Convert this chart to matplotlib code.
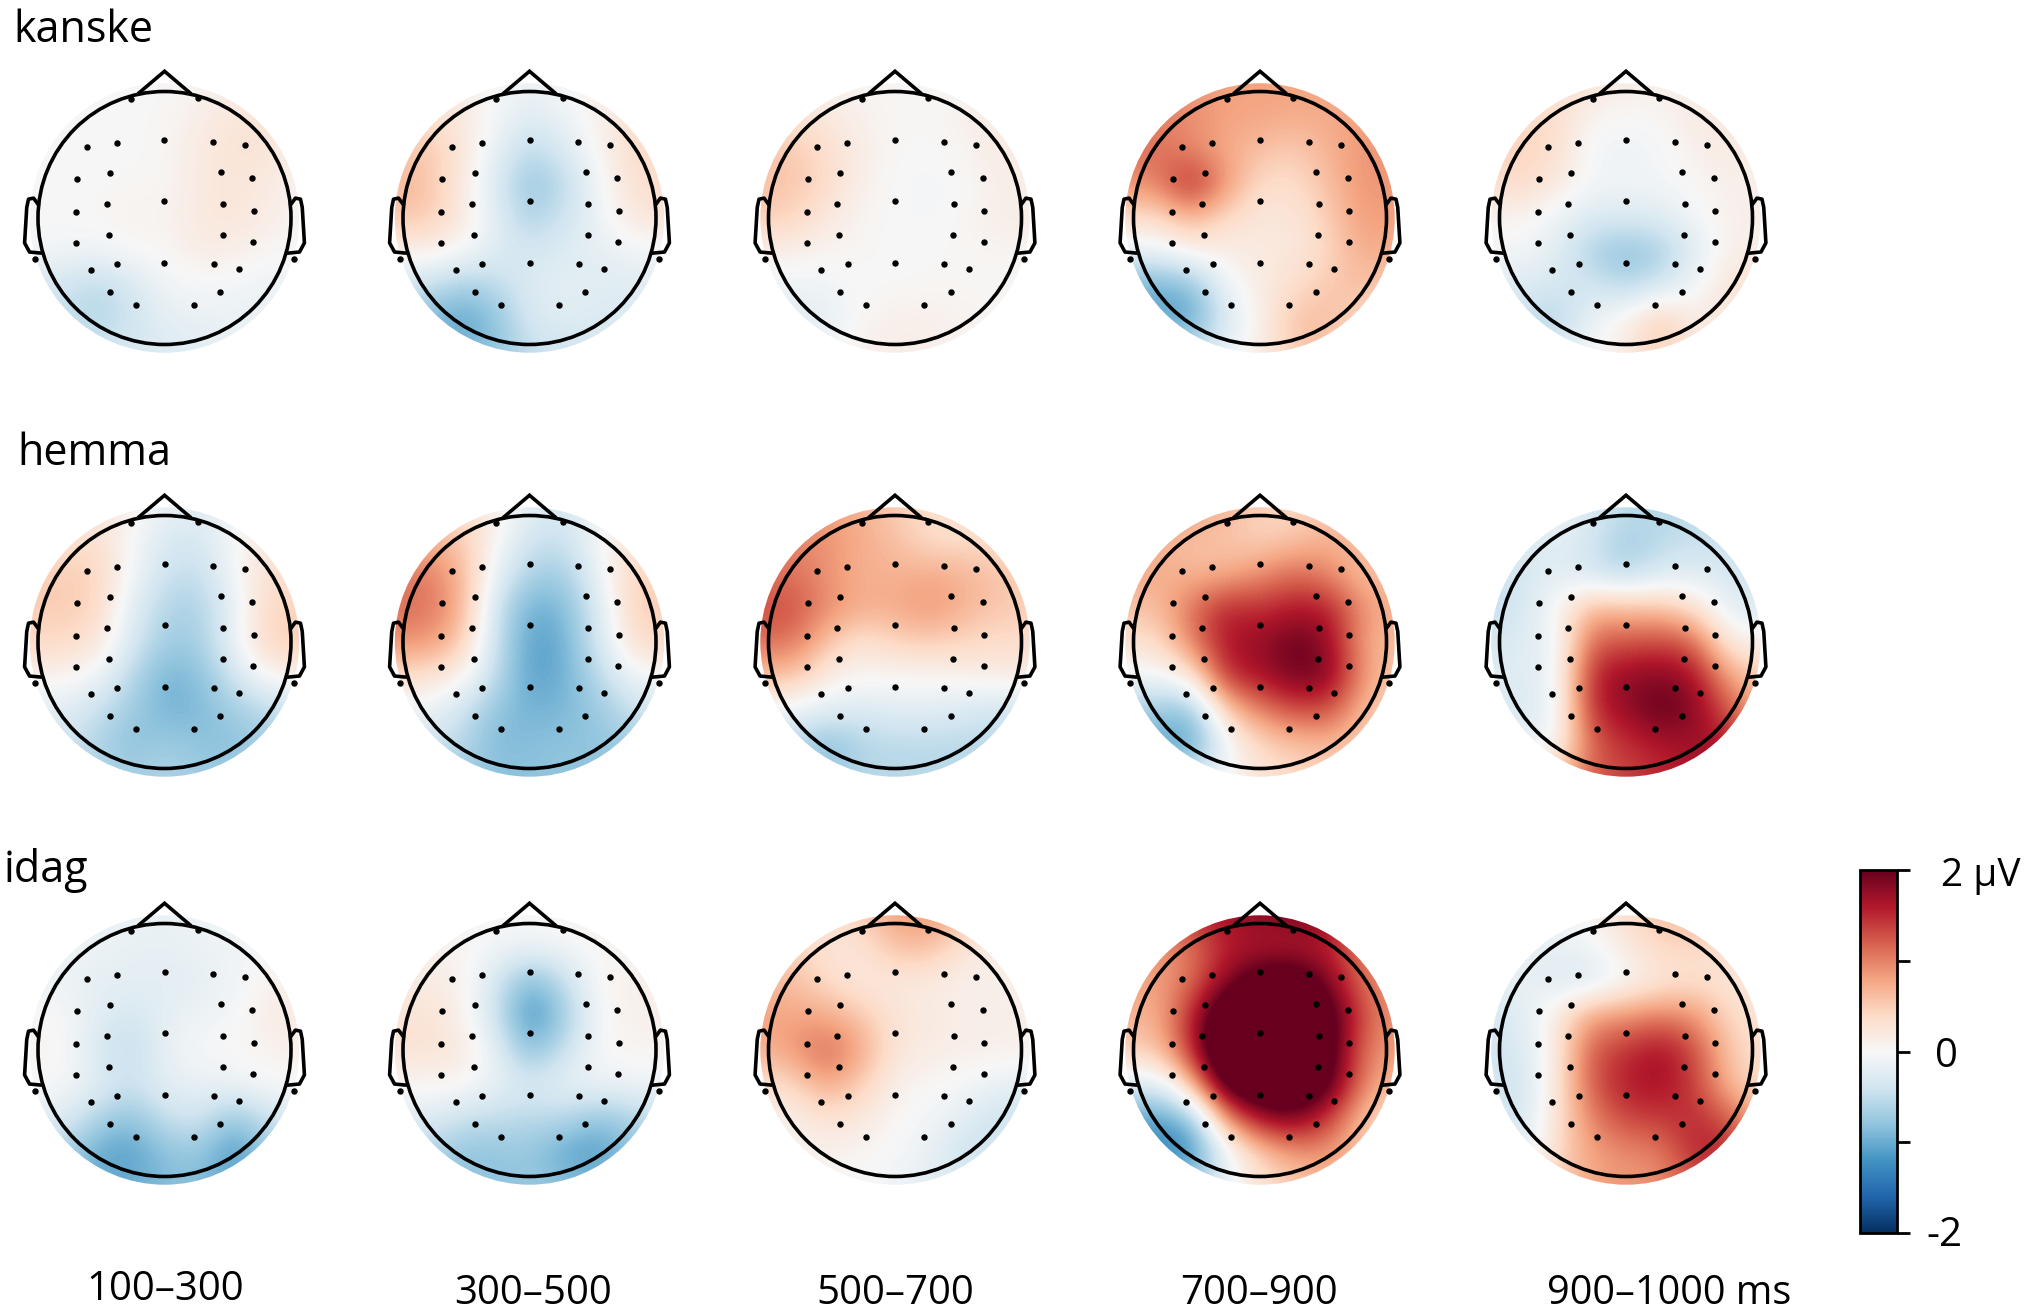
import numpy as np
import matplotlib
matplotlib.use("Agg")
import matplotlib.pyplot as plt
from matplotlib.patches import Circle
from matplotlib.cm import ScalarMappable
from matplotlib.colors import Normalize

plt.rcParams['font.family'] = ['Open Sans', 'DejaVu Sans']

conditions = ['kanske', 'hemma', 'idag']
windows = ['100–300', '300–500', '500–700', '700–900', '900–1000 ms']
cbar_ticks = [-2, -1, 0, 1, 2]

# electrode locations on the unit head
elec_x = [-.262, .262, -.613, -.376, 0, .387, .638, -.688, -.433, .443, .695, -.699, -.457, 0, .465, .706,
          -.699, -.44, .461, .702, -.582, -.372, 0, .39, .585, -.433, .44, -.227, .23, -1.025, 1.021]
elec_y = [.943, .945, .562, .589, .615, .597, .581, .309, .354, .36, .317, .051, .109, .136, .112, .056,
          -.197, -.136, -.133, -.192, -.41, -.364, -.354, -.364, -.404, -.588, -.588, -.689, -.689, -.322, -.322]

kanske_100 = [[0,0,0,0,0,.05,.1,.1,.1],[0,0,0,0,.03,.12,.25,.25,.1],[0,0,0,0,.03,.18,.27,.27,.1],
 [0,0,0,.03,.03,.18,.25,.18,.05],[0,0,.03,.08,.06,.2,.25,.14,.03],[-.05,-.05,-.1,0,.03,.15,.12,.03,0],
 [-.35,-.4,-.55,-.35,-.08,-.03,-.05,-.12,-.1],[-.45,-.45,-.6,-.42,-.2,-.15,-.14,-.14,-.12],[-.35,-.35,-.35,-.3,-.28,-.25,-.12,-.1,-.1]]
kanske_300 = [[.2,.2,.1,0,-.1,-.02,.1,.2,.3],[.3,.35,.2,-.03,-.25,-.1,.1,.3,.4],[.55,.55,.25,-.15,-.55,-.3,.05,.35,.45],
 [.65,.6,.2,-.3,-.8,-.55,-.05,.3,.35],[.55,.55,.2,-.2,-.65,-.4,-.1,.2,.3],[.1,.1,0,-.25,-.35,-.25,-.18,-.1,-.05],
 [-.35,-.45,-.7,-.55,-.25,-.2,-.25,-.25,-.2],[-.8,-.9,-1.1,-.85,-.3,-.25,-.25,-.3,-.3],[-.85,-.85,-.85,-.8,-.5,-.4,-.4,-.3,-.3]]
kanske_500 = [[.1,.1,.1,.05,.03,0,.05,.1,.1],[.3,.3,.2,.08,.03,.02,.1,.15,.15],[.55,.55,.33,.15,.02,0,.05,.17,.15],
 [.6,.55,.4,.1,0,-.05,0,.12,.12],[.5,.45,.2,.05,0,-.03,.03,.14,.12],[.1,.1,.05,.03,0,0,.03,.05,.05],
 [-.08,-.1,-.08,0,0,.03,.03,0,0],[-.25,-.25,-.2,.05,.12,.12,.07,.05,.05],[-.1,-.1,-.05,.1,.12,.1,.08,.06,.05]]
kanske_700 = [[.9,.9,.85,.8,.8,.8,.8,.8,.8],[1,1,.95,.8,.8,.75,.75,.8,.85],[1.1,1.1,.95,.75,.6,.5,.7,.9,.85],
 [.9,1,1.6,.9,.35,.35,.6,.9,.85],[.35,.35,.7,.35,.22,.22,.5,.85,.8],[-.15,-.15,.1,.12,.2,.2,.4,.75,.7],
 [-1,-1,-.9,-.1,.15,.35,.55,.6,.5],[-1,-1,-1.1,-.3,.08,.6,.6,.4,.35],[-.5,-.5,-.4,-.1,.15,.5,.6,.4,.3]]
kanske_900 = [[.3,.3,.3,.3,.15,.1,.1,.1,.1],[.4,.4,.35,.05,0,.05,.17,.22,.2],[.45,.45,.33,-.07,-.1,-.05,.1,.17,.15],
 [.38,.38,.2,-.05,-.05,-.05,.03,.1,.1],[.05,.05,-.12,-.3,-.3,-.25,-.05,.1,.1],[-.05,-.05,-.22,-.65,-.85,-.7,-.25,.12,.1],
 [-.2,-.28,-.35,-.35,-.55,-.35,-.05,.25,.35],[-.45,-.45,-.65,-.1,.12,.6,.1,.3,.25],[-.3,-.3,-.2,0,.15,.45,.3,.2,.2]]
hemma_100 = [[.2,.2,.2,.1,-.15,-.2,-.1,.1,.1],[.3,.3,.35,0,-.3,-.35,0,.22,.2],[.5,.5,.45,-.03,-.42,-.5,-.05,.33,.35],
 [.5,.5,.45,-.2,-.6,-.65,-.17,.4,.45],[.4,.4,.28,-.3,-.7,-.7,-.12,.45,.5],[.1,.05,-.05,-.55,-.95,-.85,-.4,.05,.1],
 [-.2,-.2,-.45,-.7,-.95,-.9,-.7,-.55,-.4],[-.4,-.4,-.6,-.85,-.7,-.8,-.85,-.65,-.6],[-.5,-.5,-.55,-.65,-.6,-.7,-.7,-.6,-.6]]
hemma_300 = [[.4,.4,.3,.15,-.2,-.35,-.1,.05,.1],[.7,.7,.55,.05,-.4,-.45,0,.28,.25],[1.05,1.05,.7,-.15,-.65,-.7,-.12,.45,.45],
 [1.1,1.1,.75,-.4,-1,-.9,-.3,.45,.5],[.9,.9,.55,-.45,-1.1,-1,-.35,.35,.4],[.35,.3,.1,-.5,-1.1,-.98,-.55,-.1,0],
 [-.1,-.1,-.4,-.8,-.95,-.9,-.75,-.45,-.3],[-.4,-.4,-.55,-.9,-.85,-.8,-.8,-.7,-.6],[-.6,-.6,-.7,-.8,-.8,-.8,-.8,-.7,-.7]]
hemma_500 = [[.9,.9,.8,.7,.5,.35,.25,.2,.2],[1,1,.9,.75,.6,.35,.35,.35,.35],[1.05,1.1,.9,.7,.7,.75,.7,.55,.5],
 [1.3,1.3,.95,.75,.75,.9,.7,.55,.5],[1.1,1.1,.6,.25,.45,.5,.42,.35,.35],[.6,.6,.15,.03,.03,.03,.08,.15,.2],
 [-.1,-.1,-.22,-.3,-.22,-.22,-.3,-.4,-.4],[-.55,-.55,-.9,-.6,-.55,-.55,-.55,-.55,-.5],[-.6,-.6,-.7,-.55,-.55,-.55,-.55,-.55,-.5]]
hemma_700 = [[.8,.8,.8,.7,.45,.4,.45,.6,.6],[.7,.7,.6,.55,.45,.55,.75,.6,.6],[.75,.75,.65,.7,.9,1.15,.95,.6,.6],
 [.6,.6,1.1,1.55,1.45,1.6,1.6,.9,.7],[.3,.35,1.0,1.65,1.75,2.0,1.8,.8,.6],[-.05,-.05,.2,1.5,1.65,1.95,1.9,.9,.5],
 [-.7,-.75,-.85,.5,1.0,1.3,1.3,.65,.35],[-.9,-1,-1.15,-.1,.4,.55,.65,.5,.3],[-.4,-.4,-.3,0,.25,.4,.4,.35,.2]]
hemma_900 = [[-.1,-.1,-.05,-.3,-.5,-.55,-.55,-.5,-.5],[-.3,-.3,-.2,-.35,-.7,-.55,-.45,-.45,-.5],[-.4,-.35,-.2,-.4,-.6,-.3,-.25,-.3,-.45],
 [-.55,-.3,.0,.7,.6,.6,.3,-.2,-.3],[-.3,-.25,-.1,1.2,1.25,1.35,1.2,.15,.1],[-.25,-.25,-.1,1.55,1.8,1.85,1.7,.8,.5],
 [-.3,-.3,-.1,1.5,1.75,2.05,1.85,1.25,.7],[-.2,-.2,.0,1.2,1.45,1.6,1.7,1.6,1],[.4,.4,.6,1.2,1.35,1.5,1.6,1.7,1.3]]
idag_100 = [[-.1,-.1,-.1,-.1,-.15,-.1,-.05,-.05,-.05],[-.1,-.1,-.1,-.15,-.15,-.12,-.08,0,0],[-.08,-.1,-.18,-.2,-.22,-.18,-.1,.07,.12],
 [.03,0,-.22,-.35,-.18,-.1,-.03,.15,.18],[.05,.03,-.3,-.55,-.15,0,0,.08,.1],[0,0,-.22,-.42,-.2,-.15,-.1,0,0],
 [-.2,-.25,-.6,-.85,-.45,-.35,-.8,-.45,-.2],[-.6,-.6,-1.05,-1.1,-.85,-.75,-1.2,-.75,-.6],[-.8,-.8,-.95,-1,-.85,-.85,-1,-.8,-.7]]
idag_300 = [[.05,.05,.03,0,.03,.05,.1,.1,.1],[.1,.1,.05,-.05,-.12,-.05,.03,.05,.1],[.17,.17,.1,-.35,-.95,-.5,.03,.1,.12],
 [.28,.28,.12,-.4,-1.25,-.75,0,.1,.1],[.28,.28,.22,-.15,-.9,-.45,0,.05,.08],[.05,.05,.05,-.15,-.3,-.15,-.1,-.1,-.05],
 [-.2,-.25,-.45,-.5,-.55,-.55,-.8,-.65,-.4],[-.6,-.6,-.8,-.8,-.75,-1.05,-1.15,-.8,-.6],[-.7,-.7,-.75,-.8,-.75,-.8,-.85,-.7,-.7]]
idag_500 = [[.2,.3,.3,.5,.85,.85,.7,.3,.2],[.5,.5,.25,.25,.6,.65,.25,.15,.15],[.65,.6,.38,.2,.2,.15,.1,.1,.1],
 [.8,.8,.75,.55,.25,.2,.12,.12,.1],[.7,.85,1.2,.8,.25,.15,.12,.12,.1],[.3,.4,.8,.5,.1,.03,-.03,-.15,-.2],
 [.1,.1,.28,.22,.02,-.05,-.22,-.4,-.4],[.05,.05,.1,.03,-.02,-.15,-.42,-.38,-.35],[.03,.03,.03,0,-.08,-.2,-.3,-.3,-.3]]
idag_700 = [[1.3,1.3,1.5,1.7,1.8,1.9,1.8,1,.9],[.85,.85,1.05,1.55,1.6,1.6,1.55,1,.85],[.8,.8,1.1,1.8,2.3,2.35,1.9,1.1,.85],
 [.7,.7,1.5,2.6,2.6,2.6,2.3,1.3,.85],[.5,.55,1.5,2.8,2.8,2.8,2.3,1.1,.8],[-.2,-.3,.6,2.3,2.6,2.6,2.2,1,.6],
 [-1.1,-1.1,-.9,.9,1.7,1.9,1.4,.6,.2],[-1.2,-1.3,-1.3,-.2,.5,.85,.9,.5,.3],[-.7,-.7,-.7,-.1,.25,.5,.6,.5,.4]]
idag_900 = [[-.1,-.1,-.05,.03,.35,.6,.7,.55,.4],[-.2,-.2,-.15,-.05,.2,.4,.4,.3,.25],[-.2,-.1,-.28,-.35,-.02,.2,.33,.25,.2],
 [-.35,-.25,.2,.85,.9,1.05,.9,.4,.25],[-.35,-.3,.2,1.25,1.45,1.7,1.35,.55,.3],[-.4,-.4,.25,1.25,1.6,1.7,1.4,.65,.3],
 [-.35,-.35,.3,1,1.35,1.4,1.5,1.25,.7],[-.25,-.3,.4,.8,.95,1,1.55,1.55,.9],[.2,.2,.5,.8,.85,.9,1.2,1.3,1]]

maps = [[kanske_100, kanske_300, kanske_500, kanske_700, kanske_900],
        [hemma_100, hemma_300, hemma_500, hemma_700, hemma_900],
        [idag_100, idag_300, idag_500, idag_700, idag_900]]

W, H = 2025, 1310
fig = plt.figure(figsize=(W / 100, H / 100), dpi=100, facecolor='white')
col_x = [164.5, 529.5, 895, 1260, 1626]
row_y = [218, 642, 1050]
unit = 126.5
half = 1.25
grid_half = 1.08 + 0.135
norm = Normalize(-2, 2)
cmap = 'RdBu_r'
lw = 2.6

nose_x = [-.2, 0, .2]
nose_y = [.99, 1.16, .99]
ear_x = [1.0, 1.035, 1.075, 1.089, 1.106, 1.067, .982]
ear_y = [.109, .157, .149, .083, -.197, -.269, -.277]

for r, cy in enumerate(row_y):
    for c, cx in enumerate(col_x):
        s = half * unit
        ax = fig.add_axes([(cx - s) / W, 1 - (cy + s) / H, 2 * s / W, 2 * s / H])
        ax.set_xlim(-half, half)
        ax.set_ylim(-half, half)
        ax.axis('off')
        im = ax.imshow(np.array(maps[r][c]), cmap=cmap, norm=norm, interpolation='bicubic',
                       extent=[-grid_half, grid_half, -grid_half, grid_half], origin='upper')
        clip = Circle((0, 0.0), 1.065, transform=ax.transData)
        im.set_clip_path(clip)
        ax.add_patch(Circle((0, 0), 1.0, fill=False, ec='black', lw=lw))
        ax.plot(nose_x, nose_y, color='black', lw=lw, solid_joinstyle='miter', clip_on=False)
        ax.plot(ear_x, ear_y, color='black', lw=lw, clip_on=False, solid_joinstyle='round')
        ax.plot(-np.array(ear_x), ear_y, color='black', lw=lw, clip_on=False, solid_joinstyle='round')
        ax.plot(elec_x, elec_y, ls='none', marker='o', ms=3.6, mfc='black', mec='black', clip_on=False)

fs = 31
def px_text(x, y, s, size=fs, **kw):
    fig.text(x / W, 1 - y / H, s, fontsize=size, color='black', **kw)

px_text(13, 42, conditions[0], va='baseline', ha='left')
px_text(17, 465, conditions[1], va='baseline', ha='left')
px_text(4, 882, conditions[2], va='baseline', ha='left')

label_fs = 29
px_text(165, 1300, windows[0], size=label_fs, ha='center', va='baseline')
px_text(533, 1304, windows[1], size=label_fs, ha='center', va='baseline')
px_text(895, 1304, windows[2], size=label_fs, ha='center', va='baseline')
px_text(1259, 1304, windows[3], size=label_fs, ha='center', va='baseline')
px_text(1669, 1304, windows[4], size=28.5, ha='center', va='baseline')

cax = fig.add_axes([1860 / W, 1 - 1233 / H, 37 / W, 363 / H])
cb = fig.colorbar(ScalarMappable(norm=norm, cmap=cmap), cax=cax, ticks=cbar_ticks)
cb.ax.set_yticklabels([])
cb.ax.tick_params(length=9, width=2, color='black')
cb.outline.set_linewidth(2)

px_text(1941, 876, '2 µV', size=28, ha='left', va='center')
px_text(1935, 1057, '0', size=label_fs, ha='left', va='center')
px_text(1926, 1236, '-2', size=label_fs, ha='left', va='center')

fig.savefig('out.png', dpi=100, facecolor='white')
